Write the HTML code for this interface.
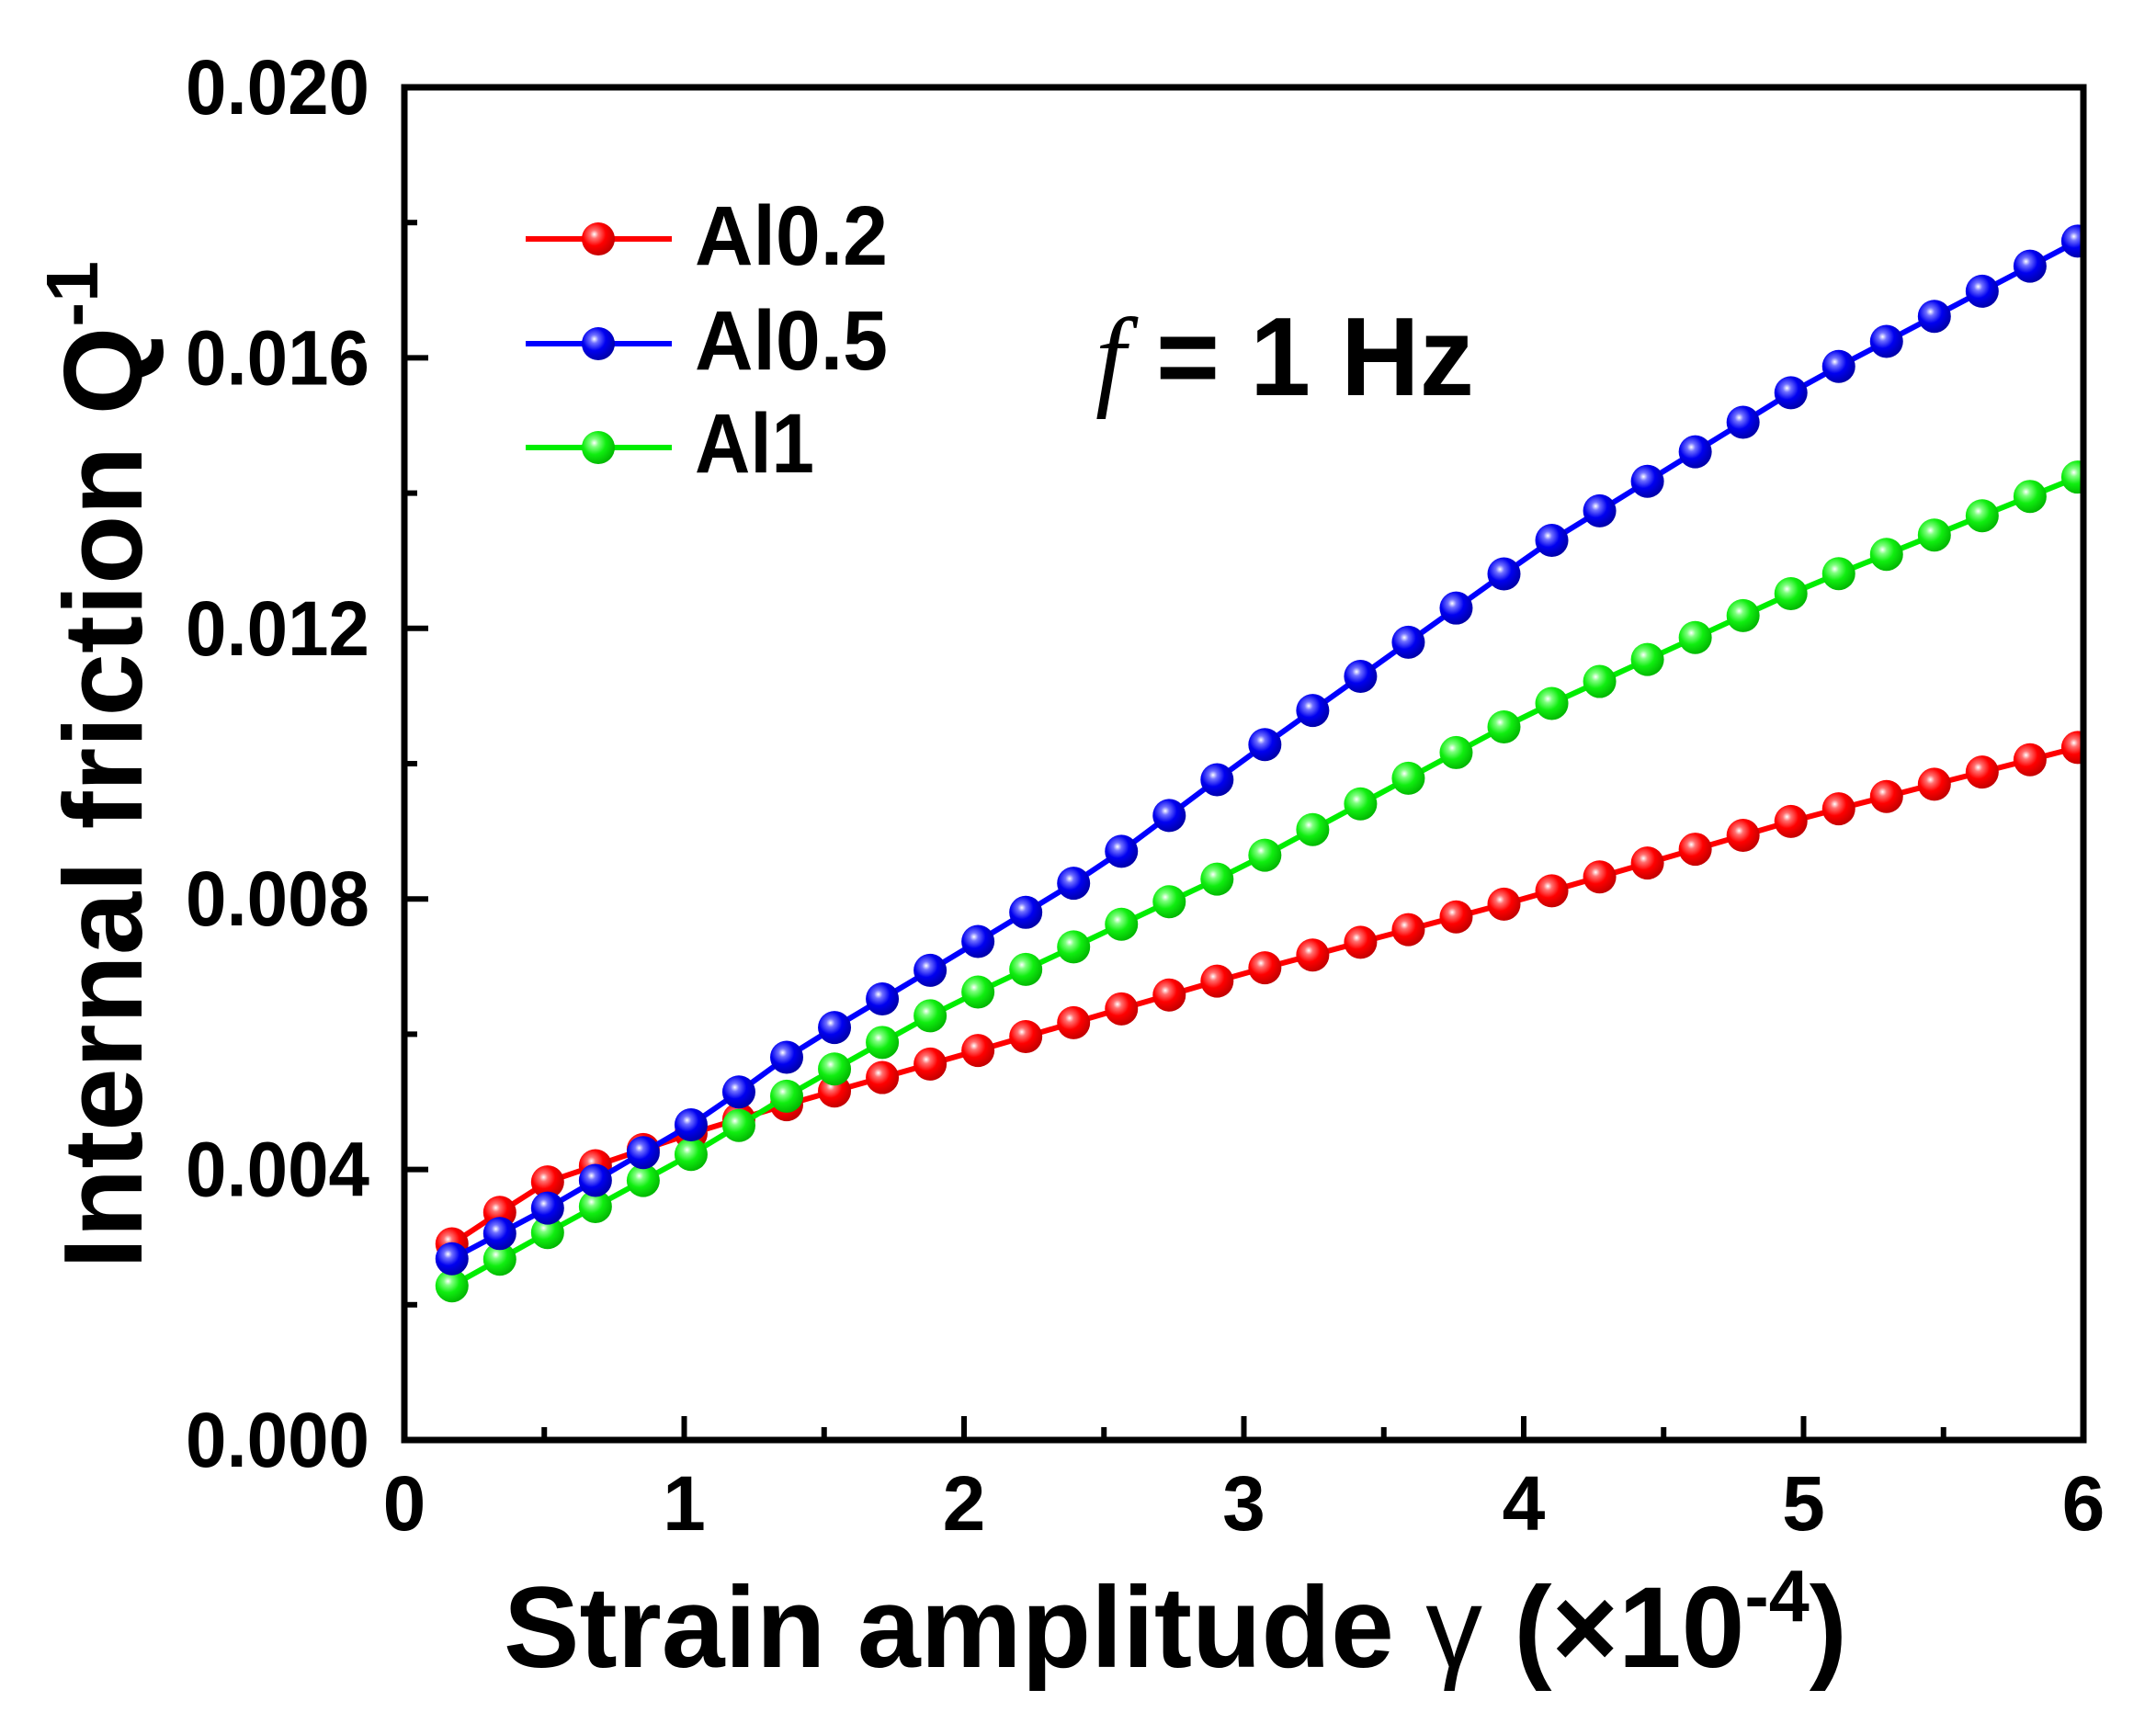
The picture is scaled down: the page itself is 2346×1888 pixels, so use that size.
<!DOCTYPE html>
<html><head><meta charset="utf-8">
<style>
html,body{margin:0;padding:0;background:#fff;}
svg{display:block;}
text{font-family:"Liberation Sans",Arial,sans-serif;font-weight:bold;fill:#000;}
</style></head>
<body>
<svg id="s" xmlns="http://www.w3.org/2000/svg" width="2346" height="1888" viewBox="0 0 2346 1888">
<defs>
<radialGradient id="gr" cx="0.38" cy="0.36" r="0.7"><stop offset="0" stop-color="#fff"/><stop offset="0.18" stop-color="#ff7070"/><stop offset="0.5" stop-color="#f00"/><stop offset="1" stop-color="#b00"/></radialGradient>
<radialGradient id="gb" cx="0.38" cy="0.36" r="0.7"><stop offset="0" stop-color="#fff"/><stop offset="0.18" stop-color="#7070ff"/><stop offset="0.5" stop-color="#0000f0"/><stop offset="1" stop-color="#0000a0"/></radialGradient>
<radialGradient id="gg" cx="0.38" cy="0.36" r="0.7"><stop offset="0" stop-color="#fff"/><stop offset="0.18" stop-color="#80ff80"/><stop offset="0.5" stop-color="#10ee10"/><stop offset="1" stop-color="#00b000"/></radialGradient>
<clipPath id="cp"><rect x="440" y="95" width="1827" height="1472"/></clipPath>
</defs>
<g id="data" clip-path="url(#cp)"></g>
<g id="ax"></g>
<!-- legend -->
<line x1="572" y1="260" x2="731" y2="260" stroke="#f00" stroke-width="6"/>
<circle cx="651" cy="260" r="18" fill="url(#gr)"/>
<line x1="572" y1="374" x2="731" y2="374" stroke="#00f" stroke-width="6"/>
<circle cx="651" cy="374" r="18" fill="url(#gb)"/>
<line x1="572" y1="487" x2="731" y2="487" stroke="#0e0" stroke-width="6"/>
<circle cx="651" cy="487" r="18" fill="url(#gg)"/>
<text x="756" y="288" font-size="92" textLength="210" lengthAdjust="spacingAndGlyphs">Al0.2</text>
<text x="756" y="402" font-size="92" textLength="210" lengthAdjust="spacingAndGlyphs">Al0.5</text>
<text x="756" y="514" font-size="92" textLength="130" lengthAdjust="spacingAndGlyphs">Al1</text>
<text x="1192" y="430" font-size="122" textLength="412" lengthAdjust="spacingAndGlyphs"><tspan font-family="Liberation Serif" font-style="italic" font-weight="normal">f</tspan> = 1 Hz</text>
<!-- axis titles -->
<text x="548" y="1814" font-size="125" textLength="1462" lengthAdjust="spacingAndGlyphs">Strain amplitude <tspan font-weight="normal">γ</tspan> (×10<tspan font-size="80" dy="-50">-4</tspan><tspan dy="50">)</tspan></text>
<text transform="translate(154,1381) rotate(-90)" font-size="122" textLength="1097" lengthAdjust="spacingAndGlyphs">Internal friction Q<tspan font-size="80" dy="-48">-1</tspan></text>
</svg>
<script>
var NS="http://www.w3.org/2000/svg";
function X(x){return 440+x*304.5;}
function Y(v){return 1567-v*73600;}
var series=[
 {c:"#f00",g:"gr",a:[[0.17,.0029],[0.5,.0038],[1,.0045],[1.4,.0050],[2,.0057],[3,.0069],[4,.0080],[5,.0092],[6,.01026]]},
 {c:"#0e0",g:"gg",a:[[0.17,.00228],[0.5,.00304],[1.05,.00428],[1.4,.00517],[1.93,.00639],[3,.00848],[4,.0107],[5,.0126],[6,.01427]]},
 {c:"#00f",g:"gb",a:[[0.17,.00268],[0.5,.0034],[1.07,.00477],[1.4,.00576],[1.95,.00712],[2.49,.00848],[3,.01006],[4.08,.01325],[5,.0156],[6,.01777]]}
];
function interp(a,x){for(var i=0;i<a.length-1;i++){if(x<=a[i+1][0]){var t=(x-a[i][0])/(a[i+1][0]-a[i][0]);return a[i][1]+t*(a[i+1][1]-a[i][1]);}}return a[a.length-1][1];}
var d=document.getElementById("data");
series.forEach(function(s){
 var pts=[];for(var k=0;k<35;k++){var x=0.17+k*(5.98-0.17)/34;pts.push([X(x),Y(interp(s.a,x))]);}
 var pl=document.createElementNS(NS,"polyline");
 pl.setAttribute("points",pts.map(function(p){return p[0].toFixed(1)+","+p[1].toFixed(1)}).join(" "));
 pl.setAttribute("fill","none");pl.setAttribute("stroke",s.c);pl.setAttribute("stroke-width","6");
 d.appendChild(pl);
 pts.forEach(function(p){var c=document.createElementNS(NS,"circle");c.setAttribute("cx",p[0]);c.setAttribute("cy",p[1]);c.setAttribute("r","18");c.setAttribute("fill","url(#"+s.g+")");d.appendChild(c);});
});
var ax=document.getElementById("ax");
function el(n,at,txt){var e=document.createElementNS(NS,n);for(var k in at)e.setAttribute(k,at[k]);if(txt!==undefined)e.textContent=txt;ax.appendChild(e);return e;}
el("rect",{x:440,y:95,width:1827,height:1472,fill:"none",stroke:"#000","stroke-width":7});
var yl=["0.000","0.004","0.008","0.012","0.016","0.020"];
for(var i=0;i<=10;i++){var y=1567-i*147.2;var L=(i%2==0)?26:14;
 el("line",{x1:440,y1:y,x2:440+L,y2:y,stroke:"#000","stroke-width":6});
 if(i%2==0)el("text",{x:202,y:y+29,"font-size":84,textLength:200,lengthAdjust:"spacingAndGlyphs"},yl[i/2]);}
for(var i=0;i<=12;i++){var x=440+i*152.25;var L=(i%2==0)?26:14;
 el("line",{x1:x,y1:1567,x2:x,y2:1567-L,stroke:"#000","stroke-width":6});
 if(i%2==0)el("text",{x:x,y:1665,"font-size":84,"text-anchor":"middle"},String(i/2));}
</script>
</body></html>
